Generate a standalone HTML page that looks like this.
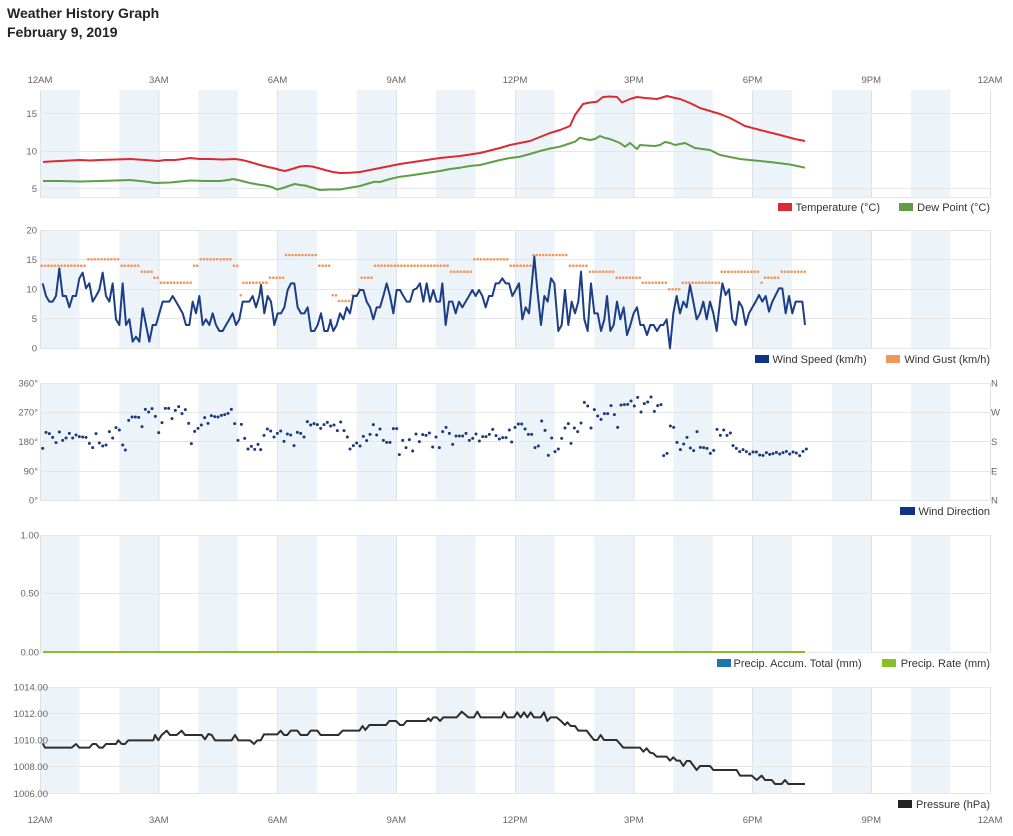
<!DOCTYPE html>
<html><head><meta charset="utf-8"><style>
html,body{margin:0;padding:0;background:#fff;}
svg{display:block;font-family:"Liberation Sans",Arial,sans-serif;}
.t{font-size:14px;font-weight:bold;fill:#222;}
.ax{font-size:9.5px;fill:#666;}
.lg{font-size:11px;fill:#333;}
.g{stroke:#e4e6e8;stroke-width:1;}
.v{stroke:#dde2e6;stroke-width:1;}
</style></head><body>
<svg width="1013" height="836" viewBox="0 0 1013 836" xmlns="http://www.w3.org/2000/svg">
<defs>
<pattern id="bp" x="40" y="0" width="79.1667" height="10" patternUnits="userSpaceOnUse"><rect x="0" y="0" width="39.583" height="10" fill="#edf4f9"/></pattern>
</defs>
<text class="t" x="7" y="18">Weather History Graph</text>
<text class="t" x="7" y="37">February 9, 2019</text>

<!-- top axis labels -->
<g class="ax" text-anchor="middle">
<text x="40" y="83">12AM</text><text x="158.75" y="83">3AM</text><text x="277.5" y="83">6AM</text><text x="396.25" y="83">9AM</text><text x="515" y="83">12PM</text><text x="633.75" y="83">3PM</text><text x="752.5" y="83">6PM</text><text x="871.25" y="83">9PM</text><text x="990" y="83">12AM</text>
<text x="40" y="823">12AM</text><text x="158.75" y="823">3AM</text><text x="277.5" y="823">6AM</text><text x="396.25" y="823">9AM</text><text x="515" y="823">12PM</text><text x="633.75" y="823">3PM</text><text x="752.5" y="823">6PM</text><text x="871.25" y="823">9PM</text><text x="990" y="823">12AM</text>
</g>

<!-- bands -->
<rect x="40" y="90" width="950" height="107" fill="url(#bp)"/>
<rect x="40" y="230" width="950" height="118" fill="url(#bp)"/>
<rect x="40" y="383" width="950" height="117" fill="url(#bp)"/>
<rect x="40" y="535" width="950" height="116" fill="url(#bp)"/>
<rect x="40" y="687" width="950" height="106" fill="url(#bp)"/>

<!-- vertical grid -->
<g class="v">
<path d="M40.5,90V197M159,90V197M277.5,90V197M396.5,90V197M515.5,90V197M634,90V197M752.5,90V197M871.5,90V197M990.5,90V197"/>
<path d="M40.5,230V348M159,230V348M277.5,230V348M396.5,230V348M515.5,230V348M634,230V348M752.5,230V348M871.5,230V348M990.5,230V348"/>
<path d="M40.5,383V500M159,383V500M277.5,383V500M396.5,383V500M515.5,383V500M634,383V500M752.5,383V500M871.5,383V500M990.5,383V500"/>
<path d="M40.5,535V652M159,535V652M277.5,535V652M396.5,535V652M515.5,535V652M634,535V652M752.5,535V652M871.5,535V652M990.5,535V652"/>
<path d="M40.5,687V793M159,687V793M277.5,687V793M396.5,687V793M515.5,687V793M634,687V793M752.5,687V793M871.5,687V793M990.5,687V793"/>
</g>

<!-- horizontal grid -->
<g class="g">
<path d="M40,113.5H990M40,151.5H990M40,188.5H990M40,197.5H990"/>
<path d="M40,230.5H990M40,259.5H990M40,289.5H990M40,318.5H990M40,348.5H990"/>
<path d="M40,383.5H990M40,412.5H990M40,441.5H990M40,471.5H990M40,500.5H990"/>
<path d="M40,535.5H990M40,593.5H990M40,652.5H990"/>
<path d="M40,687.5H990M40,713.5H990M40,740.5H990M40,766.5H990M40,793.5H990"/>
</g>

<!-- y labels -->
<g class="ax" text-anchor="end">
<text x="37" y="117">15</text><text x="37" y="154.5">10</text><text x="37" y="192">5</text>
<text x="37" y="233.5">20</text><text x="37" y="263">15</text><text x="37" y="292.5">10</text><text x="37" y="322">5</text><text x="37" y="351.5">0</text>
<text x="38" y="386.5">360°</text><text x="38" y="415.5">270°</text><text x="38" y="445">180°</text><text x="38" y="474.5">90°</text><text x="38" y="503.5">0°</text>
<text x="39" y="538.5">1.00</text><text x="39" y="596.5">0.50</text><text x="39" y="655.5">0.00</text>
<text x="48" y="690.5">1014.00</text><text x="48" y="717">1012.00</text><text x="48" y="743.5">1010.00</text><text x="48" y="770">1008.00</text><text x="48" y="797">1006.00</text>
</g>
<g class="ax">
<text x="991" y="386.5">N</text><text x="991" y="415.5">W</text><text x="991" y="445">S</text><text x="991" y="474.5">E</text><text x="991" y="503.5">N</text>
</g>

<!-- Temperature / Dew point -->
<polyline fill="none" stroke="#dc2a33" stroke-width="2" stroke-linejoin="round" points="43,162 50,161.5 60,161 70,160.5 80,160 90,160.5 100,160 115,159.5 130,159 145,160 158,161 165,160 175,160 183,159 190,158 200,159 210,159 222,159.5 235,159 242,160 250,162 260,165 268,167 275,168.5 280,170 285,171 292,169 300,166.5 306,166 312,166.5 318,168 325,170 333,172 340,173 350,172.7 360,172 370,170 380,168 390,166 400,164 410,162.5 420,161 430,159.5 440,158 450,157 460,156 470,154.5 480,153 490,150.5 500,148 510,145 520,143 530,141 540,137 550,133 560,130 570,126 575,115 583,104 590,102.5 597,101.7 603,97 610,96.5 617,97 622,102.5 630,99 637,97 645,98 657,99 667,96 675,98 680,99 690,103 700,108 710,111 720,114 730,118 745,126 760,130 770,132.5 780,135 795,139 805,141"/>
<polyline fill="none" stroke="#5e9e45" stroke-width="2" stroke-linejoin="round" points="43,181 60,181 80,181.5 100,181 115,180.5 130,180 145,181.5 155,183 170,182.5 180,181.5 190,180.5 205,181 220,181 228,180 233,179 240,180.5 250,183 258,184.5 265,185.5 272,187 277,189.5 283,188 290,185.5 295,184 300,185 305,185.5 312,187.5 320,190 330,189.5 340,189.5 350,187.7 360,186 370,183 375,181.7 380,182 390,179 400,176.7 410,175.5 420,174 430,172.5 440,171 450,169 460,167.7 470,166 480,165 490,162.5 500,160 510,158 520,156.7 530,154 540,151 550,148.5 560,146.7 568,144 575,141.7 580,137.7 585,139 590,140 595,139 600,136 605,138 610,139 615,141 620,143 625,146.7 630,143 637,149 640,145 650,145.7 655,146 660,145 665,142 670,143 675,145 685,143 695,148 710,150 720,155 730,157 740,159 750,160 760,161 770,162 780,163.3 790,164.5 805,167.7"/>
<rect x="778" y="203" width="14" height="8" fill="#dc2a33"/><text class="lg" x="795.5" y="211">Temperature (°C)</text>
<rect x="899" y="203" width="14" height="8" fill="#5e9e45"/><text class="lg" x="990" y="211" text-anchor="end">Dew Point (°C)</text>

<!-- Wind gust -->
<g fill="none" stroke="#f0975a" stroke-width="2.6" stroke-linecap="round" stroke-dasharray="0 3.3">
<path d="M41.7,265.7H86M88.3,259.3H119.3M121.7,265.7H139.3M141.7,271.7H152.7M154.3,277.7H159.3M161,282.7H192.7M194,265.7H199.3M200.7,259.3H232.3M234,265.7H238.3M240.7,295.3h0.1M243.3,282.7H268.3M270,277.7H285M286,255H317.3M319.3,265.7H331M332.7,295.3H337.3M339,301H352M352.7,295.3H358.3M359.3,289.3h0.1M361.7,277.7H373.3M375,265.7H449.3M451,271.7H472.7M474.3,259.3H509.3M510.7,265.7H531.7M533.3,255H568.3M570,265.7H587.7M590,271.7H615M616.7,277.7H640.7M642.7,282.7H667M669.3,289.3H680.7M682.7,282.7H720M721.7,271.7H760M761.7,282.7h0.1M765,277.7H780M781.7,271.7H806"/>
</g>
<!-- Wind speed -->
<g fill="none" stroke="#1b3e86" stroke-width="2" stroke-linejoin="round">
<polyline transform="translate(0,220) scale(0.333333)" vector-effect="non-scaling-stroke" points="128,190 138,228 148,245 158,245 168,228 178,145 188,228 198,228 208,262 218,228 228,228 238,175 248,158 258,205 268,190 278,245 288,228 298,210 308,158 318,228 328,245 338,190 348,298 358,315 368,190 378,315 388,298 398,365 408,350 418,365 428,265 438,315 448,365 458,315 468,315 478,280 488,245 498,245 508,245 518,228 528,245 538,262 548,280 558,315 568,315 578,245 588,280 598,228 608,315 618,298 628,315 638,280 648,315 658,333 668,333 678,315 688,298 698,280 708,315 718,298 728,245 738,245 748,245 758,228 768,262 778,228 783,195 793,280 803,228 813,245 823,315 833,280 843,280 853,262 863,210 873,190 883,190 893,262 903,280 913,280 923,262 933,333 943,333 953,315 963,280 973,333 983,333 993,298"/>
<polyline transform="translate(330,220) scale(0.333333)" vector-effect="non-scaling-stroke" points="0,298 10,333 20,315 30,280 40,298 50,262 60,280 70,228 80,228 90,210 100,210 110,245 120,262 130,298 140,262 150,262 160,228 170,190 180,228 190,280 200,210 210,210 220,228 230,245 240,245 250,210 260,205 270,190 280,245 290,190 300,245 310,210 320,245 330,245 337,190 347,315 357,245 367,245 377,280 387,245 397,262 407,245 417,228 427,210 437,228 447,210 457,228 467,262 477,228 487,228 497,190 507,190 517,175 527,190 537,190 547,228 557,210 567,190 577,298 587,262 597,280 607,175 613,110 622,210 633,315 643,228 653,245 663,175 673,190 685,333 695,315 705,210 715,315 725,245 735,280 745,245 753,155 763,298 773,333 783,190 793,280 803,280 813,333 823,298 831,228 841,333 851,315 861,245 871,298 881,262 891,345 901,315 911,280 921,262 931,315 941,315 951,345 961,315 971,315 981,333 991,315"/>
<polyline transform="translate(660,220) scale(0.333333)" vector-effect="non-scaling-stroke" points="0,315 10,315 20,298 30,385 40,280 50,228 60,280 70,245 80,262 90,195 100,245 110,298 120,280 130,245 140,298 150,245 160,280 170,333 180,245 187,190 197,225 207,208 217,298 227,315 237,245 247,262 257,315 267,280 277,262 287,245 297,225 307,245 317,228 327,275 337,245 347,225 357,205 367,205 377,280 387,228 397,280 407,245 417,245 427,245 435,315"/>
</g>
<rect x="755" y="355" width="14" height="8" fill="#0e3483"/><text class="lg" x="772.5" y="363">Wind Speed (km/h)</text>
<rect x="886" y="355" width="14" height="8" fill="#f0975a"/><text class="lg" x="990" y="363" text-anchor="end">Wind Gust (km/h)</text>

<!-- Wind direction -->
<g fill="none" stroke="#1a3a7c" stroke-width="3" stroke-linecap="round">
<path transform="translate(0,370) scale(0.333333)" vector-effect="non-scaling-stroke" d="M128,235h.1M138,187h.1M148,191h.1M158,202h.1M168,218h.1M178,186h.1M188,211h.1M198,204h.1M208,190h.1M218,204h.1M228,195h.1M238,200h.1M248,201h.1M258,202h.1M268,220h.1M278,233h.1M288,191h.1M298,219h.1M308,228h.1M318,225h.1M328,185h.1M338,204h.1M348,173h.1M358,180h.1M368,225h.1M376,240h.1M386,151h.1M396,141h.1M406,141h.1M416,142h.1M426,170h.1M436,118h.1M446,126h.1M456,116h.1M466,139h.1M476,188h.1M486,158h.1M496,115h.1M506,115h.1M516,146h.1M526,121h.1M536,110h.1M546,131h.1M556,119h.1M566,160h.1M574,221h.1M584,184h.1M594,175h.1M604,165h.1M614,143h.1M624,160h.1M634,137h.1M644,140h.1M654,141h.1M664,136h.1M674,134h.1M684,130h.1M694,118h.1M704,161h.1M714,211h.1M724,163h.1M734,205h.1M744,237h.1M754,229h.1M764,238h.1M774,223h.1M782,239h.1M792,196h.1M802,177h.1M812,183h.1M822,201h.1M832,190h.1M842,183h.1M852,214h.1M862,192h.1M872,195h.1M882,227h.1M892,187h.1M902,190h.1M912,201h.1M922,155h.1M932,165h.1M942,161h.1M952,164h.1M962,175h.1M972,164h.1M982,157h.1M992,168h.1M1002,165h.1M1012,182h.1M1022,156h.1M1032,182h.1M1042,201h.1M1050,237h.1M1060,227h.1M1070,219h.1M1080,228h.1M1090,199h.1M1100,212h.1M1110,193h.1M1120,164h.1M1130,195h.1M1140,177h.1M1150,211h.1M1160,217h.1M1170,217h.1M1180,176h.1M1190,176h.1M1198,254h.1M1208,211h.1M1218,233h.1M1228,209h.1M1238,243h.1M1248,192h.1M1258,215h.1M1268,194h.1M1278,196h.1M1288,189h.1M1298,231h.1M1308,201h.1M1318,233h.1M1328,185h.1M1338,172h.1M1348,190h.1M1358,223h.1M1368,198h.1M1378,198h.1M1388,198h.1M1398,190h.1M1408,211h.1M1418,205h.1M1428,192h.1M1438,213h.1M1448,200h.1M1458,200h.1M1468,193h.1M1478,178h.1M1488,197h.1M1498,207h.1M1508,203h.1M1518,203h.1M1528,180h.1"/>
<path transform="translate(500,370) scale(0.333333)" vector-effect="non-scaling-stroke" d="M35,216h.1M45,172h.1M55,162h.1M65,162h.1M75,177h.1M85,193h.1M95,193h.1M105,233h.1M115,228h.1M125,153h.1M135,181h.1M145,256h.1M155,204h.1M165,245h.1M175,237h.1M185,205h.1M195,174h.1M205,161h.1M213,220h.1M223,174h.1M233,185h.1M243,159h.1M253,97h.1M263,108h.1M273,174h.1M283,119h.1M293,138h.1M303,148h.1M313,131h.1M323,131h.1M333,107h.1M343,134h.1M353,172h.1M363,105h.1M373,104h.1M383,103h.1M393,93h.1M403,108h.1M413,82h.1M423,126h.1M433,101h.1M443,96h.1M453,81h.1M463,124h.1M473,107h.1M483,104h.1M491,257h.1M501,250h.1M511,168h.1M521,172h.1M531,217h.1M541,239h.1M551,222h.1M561,202h.1M571,234h.1M581,242h.1M591,185h.1M601,232h.1M611,233h.1M621,235h.1M631,250h.1M641,241h.1M651,178h.1M661,196h.1M671,180h.1M681,196h.1M691,189h.1M699,227h.1M709,235h.1M719,245h.1M729,239h.1M739,245h.1M749,252h.1M759,246h.1M769,246h.1M779,255h.1M789,256h.1M799,248h.1M809,253h.1M819,251h.1M829,247h.1M839,252h.1M849,248h.1M859,244h.1M869,252h.1M879,246h.1M889,249h.1M899,257h.1M909,244h.1M919,237h.1"/>
</g>
<rect x="900" y="507" width="15" height="8" fill="#0e3483"/><text class="lg" x="990" y="515" text-anchor="end">Wind Direction</text>

<!-- Precip -->
<line x1="43" y1="652" x2="805" y2="652" stroke="#86bf2a" stroke-width="2"/>
<rect x="717" y="659" width="14" height="8" fill="#1b78a6"/><text class="lg" x="733.5" y="667">Precip. Accum. Total (mm)</text>
<rect x="882" y="659" width="14" height="8" fill="#86bf2a"/><text class="lg" x="990" y="667" text-anchor="end">Precip. Rate (mm)</text>

<!-- Pressure -->
<g fill="none" stroke="#2e2e2e" stroke-width="2" stroke-linejoin="round">
<polyline transform="translate(0,680) scale(0.333333)" vector-effect="non-scaling-stroke" points="128,190 135,203 215,203 228,192 238,203 268,203 278,192 288,192 298,203 308,203 318,192 348,192 355,181 365,192 375,192 385,181 460,181 465,165 475,181 485,165 500,152 510,165 530,165 545,152 555,165 605,165 615,178 625,162 635,165 645,181 695,181 705,165 715,181 750,181 762,192 772,181 782,181 792,163 832,163 842,152 852,165 862,165 872,152 892,152 902,165 922,165 932,152 952,152 962,165 990,165"/>
<polyline transform="translate(330,680) scale(0.333333)" vector-effect="non-scaling-stroke" points="0,165 25,165 38,152 88,152 98,138 106,150 118,135 168,135 178,123 198,123 210,135 220,135 230,123 288,123 295,115 302,123 310,112 320,112 330,123 340,112 380,112 395,95 405,103 415,112 432,112 442,95 452,112 515,112 522,97 532,112 552,112 562,97 572,112 582,97 592,112 602,97 612,112 632,112 642,97 652,123 662,112 680,112 695,125 705,135 712,127 722,138 735,138 745,152 770,152 780,165 792,180 802,180 812,165 822,180 860,180 880,203 930,203 940,215 950,205 960,218 970,220 980,230 990,230"/>
<polyline transform="translate(660,630) scale(0.333333)" vector-effect="non-scaling-stroke" points="0,380 20,380 30,392 40,382 50,392 60,392 70,408 80,393 90,393 110,420 120,408 150,408 160,420 230,420 240,437 275,437 290,450 305,437 315,450 335,450 345,462 365,462 375,450 385,462 435,462"/>
</g>
<rect x="898" y="800" width="14" height="8" fill="#222"/><text class="lg" x="990" y="808" text-anchor="end">Pressure (hPa)</text>
</svg>
</body></html>
